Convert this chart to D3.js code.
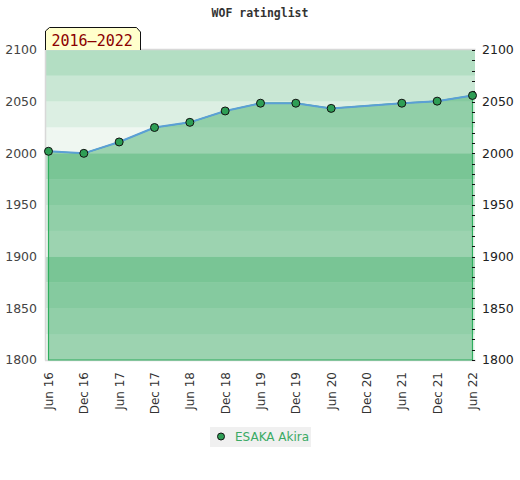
<!DOCTYPE html>
<html>
<head>
<meta charset="utf-8">
<script src="https://cdn.jsdelivr.net/npm/d3@7"></script>
<style>
  html, body { margin: 0; padding: 0; background: #fff; }
  svg { display: block; }
</style>
</head>
<body>
<svg id="chart" width="520" height="480"></svg>
<script>
// ---- data ----
const title = "WOF ratinglist";
const period = "2016\u20132022";
const seriesName = "ESAKA Akira";
const tickLabels = ["Jun 16","Dec 16","Jun 17","Dec 17","Jun 18","Dec 18","Jun 19","Dec 19","Jun 20","Dec 20","Jun 21","Dec 21","Jun 22"];
const ratings = [2002, 2000, 2011, 2025, 2030, 2041, 2048.5, 2048.5, 2043.5, null, 2048.5, 2050.5, 2056];
const yMajorTicks = [1800, 1850, 1900, 1950, 2000, 2050, 2100];
const yDomain = [1800, 2100];
const bandStep = 25;
const bandColors = ["#b3dec3", "#c9e7d4", "#dcefe3", "#eff7f1"]; // top to bottom within each 100

// ---- layout ----
const svg = d3.select("#chart");
const plot = { left: 46, right: 475, top: 50, bottom: 360 };

const x = d3.scalePoint().domain(tickLabels).range([48.5, 472.5]);
const y = d3.scaleLinear().domain(yDomain).range([plot.bottom, plot.top]);

// bands
const bands = d3.range(yDomain[0], yDomain[1], bandStep);
svg.append("g").selectAll("rect").data(bands).join("rect")
  .attr("x", plot.left)
  .attr("width", plot.right - plot.left)
  .attr("y", d => y(d + bandStep))
  .attr("height", d => y(d) - y(d + bandStep))
  .attr("fill", d => bandColors[3 - Math.floor(((d - yDomain[0]) % 100) / bandStep)]);

// plot border
svg.append("path")
  .attr("d", `M${plot.left - 0.5},${plot.bottom + 0.5}V${plot.top - 0.5}H${plot.right + 0.5}`)
  .attr("fill", "none").attr("stroke", "#d8d8d8").attr("stroke-width", 1.5);
svg.append("line")
  .attr("x1", plot.left - 1).attr("x2", plot.right + 1)
  .attr("y1", plot.bottom + 0.5).attr("y2", plot.bottom + 0.5)
  .attr("stroke", "#dadada").attr("stroke-width", 1.5);

const pts = tickLabels.map((t, i) => ({ t, v: ratings[i] })).filter(d => d.v != null);

// area
const area = d3.area().x(d => x(d.t)).y0(plot.bottom).y1(d => y(d.v));
svg.append("path").datum(pts)
  .attr("d", area)
  .attr("fill", "rgb(40,162,86)").attr("fill-opacity", 0.42)
  .attr("stroke", "#2fae5e").attr("stroke-width", 1.2);

// line
const line = d3.line().x(d => x(d.t)).y(d => y(d.v));
svg.append("path").datum(pts)
  .attr("d", line)
  .attr("fill", "none").attr("stroke", "#5b9fd6").attr("stroke-width", 2);

// right axis ticks (minor every 10)
const minorTicks = d3.range(yDomain[0], yDomain[1] + 1, 10);
svg.append("g").selectAll("line").data(minorTicks).join("line")
  .attr("x1", plot.right - 3).attr("x2", plot.right)
  .attr("y1", d => Math.round(y(d)) + 0.5).attr("y2", d => Math.round(y(d)) + 0.5)
  .attr("stroke", "#111").attr("stroke-width", 1);

// points
svg.append("g").selectAll("circle").data(pts).join("circle")
  .attr("cx", d => x(d.t)).attr("cy", d => y(d.v)).attr("r", 4)
  .attr("fill", "#2e9e55").attr("stroke", "#111").attr("stroke-width", 1);

// left axis labels
const font = "'DejaVu Sans', sans-serif";
svg.append("g").selectAll("text").data(yMajorTicks).join("text")
  .attr("x", 37).attr("y", d => y(d)).attr("dy", "0.35em")
  .attr("text-anchor", "end")
  .attr("font-family", font).attr("font-size", 12.5).attr("fill", "#444")
  .text(d => d);

// right axis labels
svg.append("g").selectAll("text").data(yMajorTicks).join("text")
  .attr("x", 482).attr("y", d => y(d)).attr("dy", "0.35em")
  .attr("text-anchor", "start")
  .attr("font-family", font).attr("font-size", 12.5).attr("fill", "#222")
  .text(d => d);

// x labels (rotated)
svg.append("g").selectAll("text").data(tickLabels).join("text")
  .attr("transform", d => `translate(${x(d) + 4.5},${plot.bottom + 12}) rotate(-90)`)
  .attr("text-anchor", "end")
  .attr("font-family", font).attr("font-size", 12).attr("fill", "#333")
  .text(d => d);

// title
svg.append("text")
  .attr("x", 260).attr("y", 17)
  .attr("text-anchor", "middle")
  .attr("font-family", "'DejaVu Sans Mono', monospace").attr("font-weight", "bold")
  .attr("font-size", 11.5).attr("fill", "#333")
  .text(title);

// period badge
svg.append("path")
  .attr("d", "M45.5,50V31L49.5,27.5H136.5L140.5,32V50")
  .attr("fill", "#ffffcc").attr("stroke", "#111").attr("stroke-width", 1);
svg.append("text")
  .attr("x", 51.5).attr("y", 45.5)
  .attr("font-family", "'DejaVu Sans Mono', monospace").attr("font-size", 15)
  .attr("fill", "#8b0000")
  .text(period);

// legend
const lg = svg.append("g").attr("transform", "translate(210,427)");
lg.append("rect").attr("width", 101).attr("height", 20).attr("fill", "#f0f0f0");
lg.append("circle").attr("cx", 11).attr("cy", 9.5).attr("r", 3.5)
  .attr("fill", "#2e9e55").attr("stroke", "#111").attr("stroke-width", 1);
lg.append("text").attr("x", 25).attr("y", 14)
  .attr("font-family", font).attr("font-size", 12).attr("fill", "#3aaa64")
  .text(seriesName);
</script>
</body>
</html>
